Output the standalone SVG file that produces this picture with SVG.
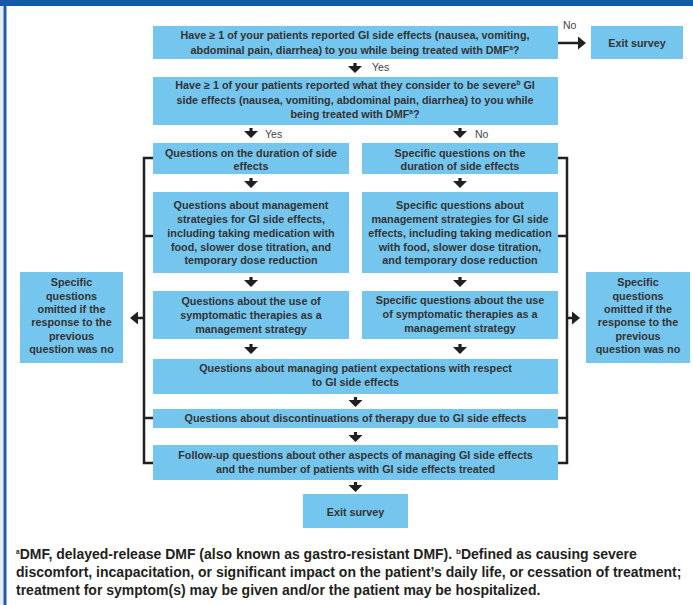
<svg xmlns="http://www.w3.org/2000/svg" xmlns:xlink="http://www.w3.org/1999/xlink" width="693" height="605" viewBox="0 0 693 605">
<style>
.box{fill:#75c6ef}
.t{font-family:"Liberation Sans",Arial,sans-serif;font-weight:bold;font-size:10.8px;fill:#333;text-anchor:middle}
.lbl{font-family:"Liberation Sans",Arial,sans-serif;font-size:10.5px;fill:#444}
.fn{font-family:"Liberation Sans Narrow","Liberation Sans",Arial,sans-serif;font-weight:bold;font-size:14px;fill:#231f20}
.sup{font-size:6.5px}
.ln{fill:none;stroke:#231f20;stroke-width:2.5}
.ah{fill:#231f20}
</style>
<defs>
<path id="down" class="ah" d="M-1.6,-10 H1.6 V-7 H7 L0,0 L-7,-7 H-1.6 Z"/>
</defs>
<rect x="0" y="0" width="693" height="605" fill="#fff"/>
<rect x="0" y="0" width="693" height="6" fill="#135aa8"/>
<rect x="0" y="6" width="3.5" height="599" fill="#e6ebf4"/>
<rect x="3.5" y="6" width="3" height="599" fill="#1f5eae"/>

<g id="q1">
<rect class="box" x="153" y="26" width="405" height="33"/>
<text class="t" x="355" y="39">Have ≥ 1 of your patients reported GI side effects (nausea, vomiting,</text>
<text class="t" x="355" y="54">abdominal pain, diarrhea) to you while being treated with DMF<tspan class="sup" dy="-4">a</tspan><tspan dy="4">?</tspan></text>
</g>
<g id="exit1">
<rect class="box" x="591" y="26" width="92" height="33"/>
<text class="t" x="637" y="47">Exit survey</text>
</g>
<g id="q2">
<rect class="box" x="153" y="77" width="405" height="48"/>
<text class="t" x="355" y="89">Have ≥ 1 of your patients reported what they consider to be severe<tspan class="sup" dy="-4">b</tspan><tspan dy="4"> GI</tspan></text>
<text class="t" x="355" y="104">side effects (nausea, vomiting, abdominal pain, diarrhea) to you while</text>
<text class="t" x="355" y="118">being treated with DMF<tspan class="sup" dy="-4">a</tspan><tspan dy="4">?</tspan></text>
</g>
<g id="durY">
<rect class="box" x="153" y="143" width="196" height="31"/>
<text class="t" x="251" y="157">Questions on the duration of side</text>
<text class="t" x="251" y="170">effects</text>
</g>
<g id="durN">
<rect class="box" x="362" y="143" width="196" height="31"/>
<text class="t" x="460" y="157">Specific questions on the</text>
<text class="t" x="460" y="170">duration of side effects</text>
</g>
<g id="mgmtY">
<rect class="box" x="153" y="192" width="196" height="81"/>
<text class="t" x="251" y="209">Questions about management</text>
<text class="t" x="251" y="223">strategies for GI side effects,</text>
<text class="t" x="251" y="237">including taking medication with</text>
<text class="t" x="251" y="251">food, slower dose titration, and</text>
<text class="t" x="251" y="264">temporary dose reduction</text>
</g>
<g id="mgmtN">
<rect class="box" x="362" y="192" width="196" height="81"/>
<text class="t" x="460" y="209">Specific questions about</text>
<text class="t" x="460" y="223">management strategies for GI side</text>
<text class="t" x="460" y="237">effects, including taking medication</text>
<text class="t" x="460" y="251">with food, slower dose titration,</text>
<text class="t" x="460" y="264">and temporary dose reduction</text>
</g>
<g id="sympY">
<rect class="box" x="153" y="291" width="196" height="48"/>
<text class="t" x="251" y="305">Questions about the use of</text>
<text class="t" x="251" y="319">symptomatic therapies as a</text>
<text class="t" x="251" y="333">management strategy</text>
</g>
<g id="sympN">
<rect class="box" x="362" y="291" width="196" height="48"/>
<text class="t" x="460" y="304">Specific questions about the use</text>
<text class="t" x="460" y="318">of symptomatic therapies as a</text>
<text class="t" x="460" y="332">management strategy</text>
</g>
<g id="omitL">
<rect class="box" x="20" y="272" width="103" height="91"/>
<text class="t" x="71.5" y="286">Specific</text>
<text class="t" x="71.5" y="300">questions</text>
<text class="t" x="71.5" y="313">omitted if the</text>
<text class="t" x="71.5" y="326">response to the</text>
<text class="t" x="71.5" y="340">previous</text>
<text class="t" x="71.5" y="353">question was no</text>
</g>
<g id="omitR">
<rect class="box" x="586" y="272" width="104" height="91"/>
<text class="t" x="638" y="286">Specific</text>
<text class="t" x="638" y="300">questions</text>
<text class="t" x="638" y="313">omitted if the</text>
<text class="t" x="638" y="326">response to the</text>
<text class="t" x="638" y="340">previous</text>
<text class="t" x="638" y="353">question was no</text>
</g>
<g id="expect">
<rect class="box" x="153" y="359" width="405" height="35"/>
<text class="t" x="355.5" y="372">Questions about managing patient expectations with respect</text>
<text class="t" x="355.5" y="386">to GI side effects</text>
</g>
<g id="discont">
<rect class="box" x="153" y="409" width="405" height="19"/>
<text class="t" x="355.5" y="422">Questions about discontinuations of therapy due to GI side effects</text>
</g>
<g id="followup">
<rect class="box" x="153" y="445" width="405" height="35"/>
<text class="t" x="355.5" y="459">Follow-up questions about other aspects of managing GI side effects</text>
<text class="t" x="355.5" y="473">and the number of patients with GI side effects treated</text>
</g>
<g id="exit2">
<rect class="box" x="303" y="494" width="105" height="34"/>
<text class="t" x="355.5" y="516">Exit survey</text>
</g>

<g id="connectors">
<line class="ln" x1="558" y1="43" x2="579" y2="43"/>
<path class="ah" d="M578,36.5 L586,43 L578,49.5 Z"/>
<text class="lbl" x="563" y="29">No</text>
<use href="#down" x="355" y="73"/>
<text class="lbl" x="372" y="71">Yes</text>
<use href="#down" x="251" y="138"/>
<text class="lbl" x="265" y="138">Yes</text>
<use href="#down" x="460" y="138"/>
<text class="lbl" x="475" y="138">No</text>
<use href="#down" x="251" y="188"/>
<use href="#down" x="460" y="188"/>
<use href="#down" x="251" y="287"/>
<use href="#down" x="460" y="287"/>
<use href="#down" x="251" y="354"/>
<use href="#down" x="460" y="354"/>
<use href="#down" x="355.5" y="407"/>
<use href="#down" x="355.5" y="442"/>
<use href="#down" x="355.5" y="492"/>
<path class="ln" d="M153,158 H144 V463 H153 M144,236 H153 M144,418 H153 M144,318 H137"/>
<path class="ah" d="M130,318 L138,311.5 L138,324.5 Z"/>
<path class="ln" d="M558,158 H567 V463 H558 M567,236 H558 M567,418 H558 M567,318 H573"/>
<path class="ah" d="M580,318 L572,311.5 L572,324.5 Z"/>
</g>

<g id="footnote">
<text class="fn" x="16" y="559"><tspan class="sup" font-size="8" dy="-5">a</tspan><tspan dy="5">DMF, delayed-release DMF (also known as gastro-resistant DMF). </tspan><tspan font-size="8" dy="-5">b</tspan><tspan dy="5">Defined as causing severe</tspan></text>
<text class="fn" x="16" y="577">discomfort, incapacitation, or significant impact on the patient’s daily life, or cessation of treatment;</text>
<text class="fn" x="16" y="595">treatment for symptom(s) may be given and/or the patient may be hospitalized.</text>
</g>
</svg>
